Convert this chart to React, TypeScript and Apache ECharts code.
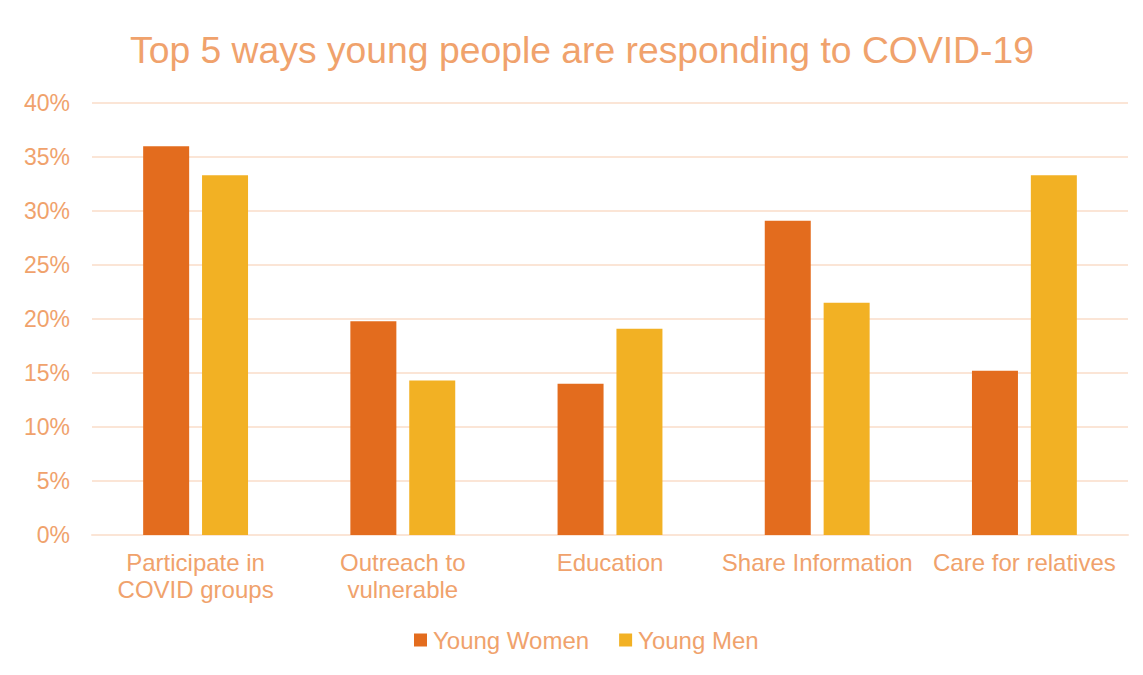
import React, { useEffect, useRef } from "react";
import * as echarts from "echarts";

const categories = [
  "Participate in\nCOVID groups",
  "Outreach to\nvulnerable",
  "Education",
  "Share Information",
  "Care for relatives",
];
const youngWomen = [36.0, 19.8, 14.0, 29.1, 15.2];
const youngMen = [33.3, 14.3, 19.1, 21.5, 33.3];
const seriesNames = ["Young Women", "Young Men"];
const titleText = "Top 5 ways young people are responding to COVID-19";

const TEXT = "#F0A26C";
const GRID = "#FBE5D6";
const FONT = "'Liberation Sans', Arial, sans-serif";

export default function App() {
  const ref = useRef<HTMLDivElement>(null);
  useEffect(() => {
    if (!ref.current) return;
    const chart = echarts.init(ref.current, undefined, { renderer: "svg" });
    chart.setOption({
      animation: false,
      backgroundColor: "#ffffff",
      graphic: {
        elements: [
          {
            type: "polyline",
            shape: { points: [[6, 675], [6, 7], [1143, 7]] },
            style: { stroke: "#F8D9C4", lineWidth: 2, fill: null },
            silent: true,
            z: 100,
          },
        ],
      },
      title: {
        text: titleText,
        left: 125,
        top: 26,
        textStyle: {
          color: TEXT,
          fontSize: 37.3,
          fontWeight: "normal",
          fontFamily: FONT,
        },
      },
      legend: {
        bottom: 18,
        left: 409,
        itemWidth: 13,
        itemHeight: 13,
        itemGap: 30,
        icon: "rect",
        textStyle: { color: TEXT, fontSize: 24, fontFamily: FONT, padding: [0, 0, 0, 1] },
        data: seriesNames,
      },
      grid: { left: 92, right: 15, top: 103, bottom: 140 },
      xAxis: {
        type: "category",
        data: categories,
        axisLine: { lineStyle: { color: GRID, width: 2 } },
        axisTick: { show: false },
        axisLabel: {
          color: TEXT,
          fontSize: 24,
          fontFamily: FONT,
          lineHeight: 27,
          margin: 14,
          interval: 0,
        },
      },
      yAxis: {
        type: "value",
        min: 0,
        max: 40,
        interval: 5,
        axisLine: { show: false },
        axisTick: { show: false },
        axisLabel: {
          color: TEXT,
          fontSize: 23,
          fontFamily: FONT,
          margin: 22,
          formatter: "{value}%",
        },
        splitLine: { lineStyle: { color: GRID, width: 2 } },
      },
      series: [
        {
          name: seriesNames[0],
          type: "bar",
          data: youngWomen,
          barWidth: 46,
          barGap: "28%",
          itemStyle: { color: "#E36C1E" },
        },
        {
          name: seriesNames[1],
          type: "bar",
          data: youngMen,
          barWidth: 46,
          barGap: "28%",
          itemStyle: { color: "#F2B124" },
        },
      ],
    });
    return () => chart.dispose();
  }, []);
  return <div ref={ref} style={{ width: 1143, height: 675, margin: -8 }} />;
}
